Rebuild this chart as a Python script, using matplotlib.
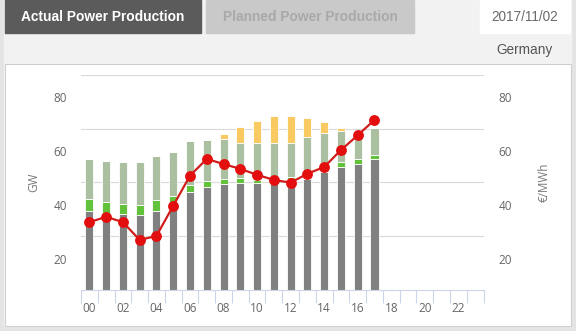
import numpy as np
import matplotlib
matplotlib.use("Agg")
import matplotlib.pyplot as plt
from matplotlib.patches import Rectangle
from matplotlib.font_manager import FontProperties

# hourly production stack (GW) and day-ahead price (EUR/MWh), 2017/11/02
hours = [f"{h:02d}" for h in range(24)]
conventional = [37.8, 36.8, 36.4, 36.1, 37.8, 41.1, 44.7, 46.5, 47.6, 48.0,
                48.1, 47.7, 49.6, 49.6, 52.3, 54.1, 55.0, 56.9]
biomass = [4.2, 4.1, 4.0, 3.7, 3.8, 2.3, 2.5, 2.2, 2.0, 2.0,
           0.9, 0.4, 0.6, 0.3, 0.3, 1.7, 2.0, 1.6]
wind = [15.0, 15.4, 15.5, 16.1, 16.5, 16.2, 16.5, 15.4, 14.7, 13.1,
        13.8, 14.7, 12.9, 15.2, 14.0, 11.5, 8.3, 9.9]
solar = [0.0, 0.0, 0.0, 0.0, 0.0, 0.0, 0.0, 0.0, 2.1, 5.8,
         8.4, 10.2, 9.9, 7.1, 4.2, 1.3, 0.0, 0.0]
price = [33.5, 35.5, 33.5, 26.9, 28.4, 39.6, 50.8, 57.0, 55.1, 53.3,
         51.1, 49.2, 48.2, 51.5, 54.0, 60.3, 65.8, 71.5]
y_ticks = [20, 40, 60, 80]

W, H = 576, 331
fig = plt.figure(figsize=(W / 100, H / 100), dpi=100)
fig.patch.set_facecolor("#f2f2f2")

# page chrome drawn in pixel coordinates
bg = fig.add_axes([0, 0, 1, 1])
bg.set_xlim(0, W)
bg.set_ylim(H, 0)
bg.axis("off")
bg.add_patch(Rectangle((0, 0), W, H, color="#e4e4e4", zorder=0))
bg.add_patch(Rectangle((4, 0), 567, 326, color="#f2f2f2", zorder=1))
bg.add_patch(Rectangle((5, 0), 196, 33, color="#5b5b5b", zorder=2))
bg.add_patch(Rectangle((206, 0), 208, 33, color="#c9c9c9", zorder=2))
bg.add_patch(Rectangle((480, 0), 90, 33, color="white", zorder=2))
bg.add_patch(Rectangle((5, 64), 566, 262, facecolor="white",
                       edgecolor="#cfcfcf", linewidth=0.8, zorder=2))
txt = dict(family=["Liberation Sans", "DejaVu Sans"], va="center", zorder=3)
bg.text(103, 17, "Actual Power Production", color="white", fontsize=9.9,
        fontweight="bold", ha="center", **txt)
bg.text(310, 17, "Planned Power Production", color="#a9a9a9", fontsize=9.9,
        fontweight="bold", ha="center", **txt)
bg.text(525, 17, "2017/11/02", color="#6a6a6a", fontsize=9.8, ha="center", **txt)
bg.text(553, 50, "Germany", color="#555555", fontsize=9.8, ha="right", **txt)

# chart area
left, right, bottom, top = 81, 483.5, 290, 74.7
ax = fig.add_axes([left / W, (H - bottom) / H, (right - left) / W, (bottom - top) / H])
ax.set_facecolor("white")
ymin, ymax = 8.3, 88.3
ax.set_ylim(ymin, ymax)
ax.set_xlim(-0.5, 23.5)

for g in np.arange(ymin + 20, ymax + 0.1, 20):
    ax.axhline(g, color="#d9d9d9", linewidth=0.8, zorder=0)

x = np.arange(len(conventional))
stack_base = np.zeros(len(x))
for vals, col in [(conventional, "#808080"), (biomass, "#62c23c"),
                  (wind, "#abc0a1"), (solar, "#f9c962")]:
    vals = np.array(vals)
    ax.bar(x, vals, bottom=stack_base, width=0.48, color=col,
           edgecolor="white", linewidth=0.6, zorder=2)
    stack_base = stack_base + vals

ax2 = ax.twinx()
ax2.set_ylim(ymin, ymax)
ax2.plot(x, price, color="#d11c1c", linewidth=1.6, marker="o", markersize=6.8,
         markerfacecolor="#e30f0f", markeredgecolor="#e30f0f", zorder=4)

tick_font = FontProperties(family=["Open Sans", "DejaVu Sans"], size=8.5)
for a in (ax, ax2):
    for s in a.spines.values():
        s.set_visible(False)
    a.set_yticks(y_ticks)
    a.tick_params(axis="y", length=0, colors="#666666")
    for lab in a.get_yticklabels():
        lab.set_fontproperties(tick_font)
ax.tick_params(axis="y", pad=10)
ax2.tick_params(axis="y", pad=11)

ax.spines["bottom"].set_visible(True)
ax.spines["bottom"].set_color("#ccd6eb")
ax.set_xticks(np.arange(-0.5, 24, 1), minor=True)
ax.set_xticks(np.arange(0, 24, 2))
ax.set_xticklabels(hours[::2])
ax.tick_params(axis="x", which="minor", length=9, color="#ccd6eb", width=0.8)
ax.tick_params(axis="x", which="major", length=0, pad=9, colors="#666666")
for lab in ax.get_xticklabels():
    lab.set_fontproperties(tick_font)

label_font = dict(color="#777777", fontsize=8.5, family=["Open Sans", "DejaVu Sans"])
ax.set_ylabel("GW", **label_font)
ax2.set_ylabel("€/MWh", rotation=90, **label_font)
ax.yaxis.set_label_coords(-(left - 40) / (right - left), 0.5)
ax2.yaxis.set_label_coords((538 - left) / (right - left), 0.5)

fig.savefig("out.png", dpi=100, facecolor=fig.get_facecolor())
